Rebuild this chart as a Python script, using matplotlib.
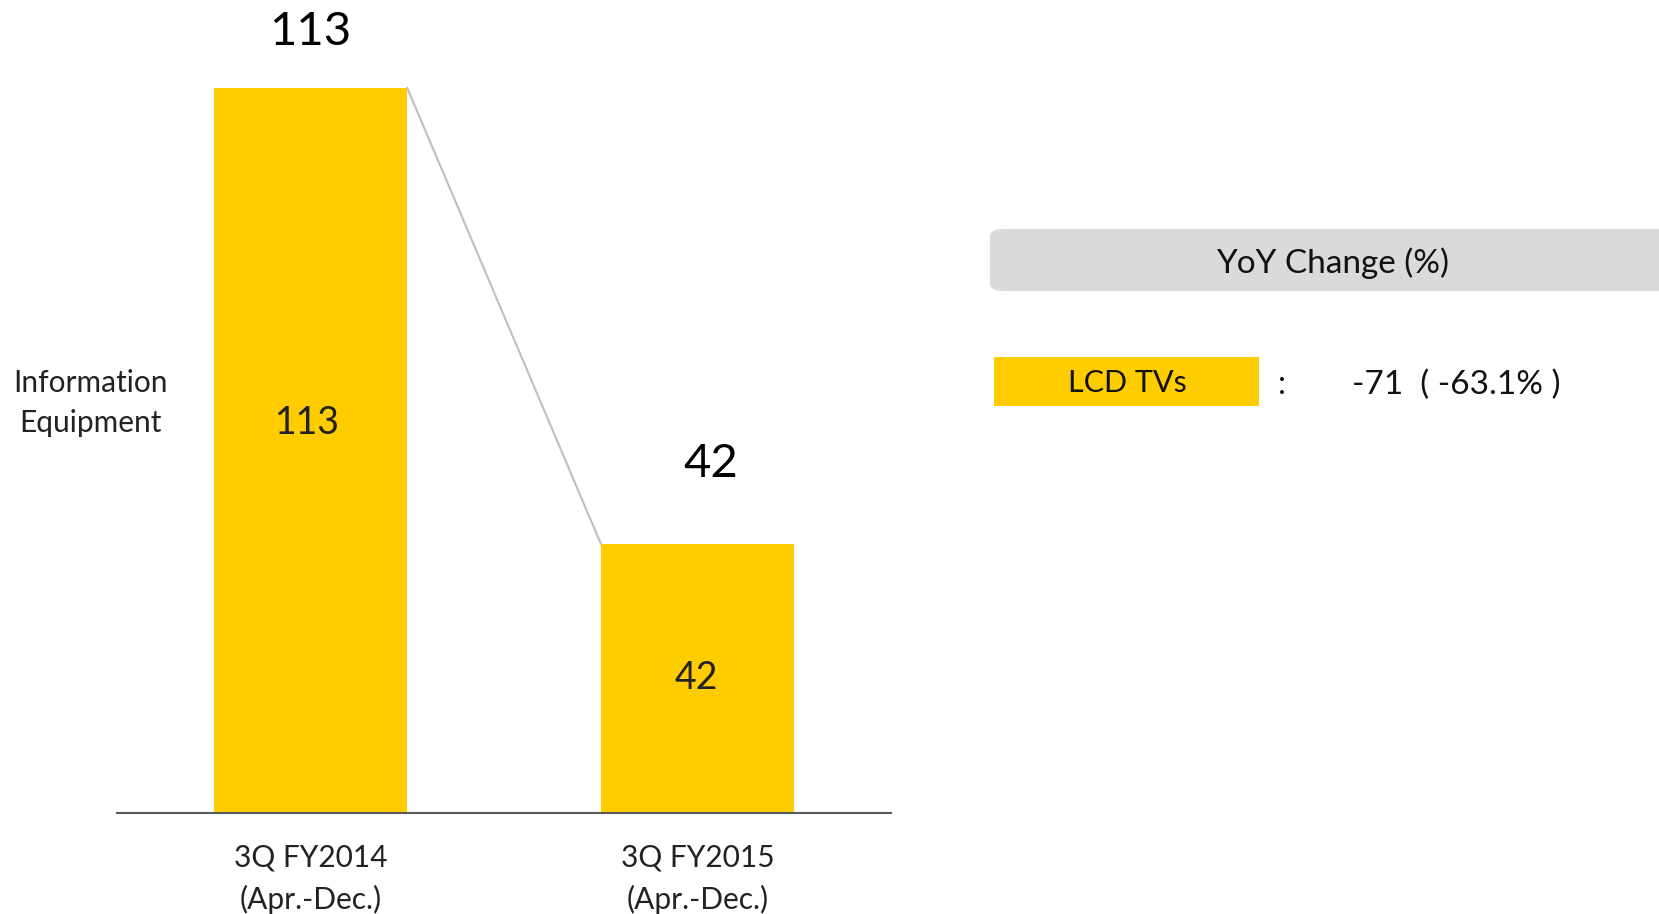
import matplotlib.pyplot as plt
from matplotlib.patches import FancyBboxPatch, Rectangle

# data
periods = ['3Q FY2014\n(Apr.-Dec.)', '3Q FY2015\n(Apr.-Dec.)']
values = [113, 42]
segment = 'Information\nEquipment'
legend_label = 'LCD TVs'
change_text = '-71  ( -63.1% )'

yellow = '#FFCC00'
plt.rcParams['font.family'] = ['Lato', 'DejaVu Sans']

fig = plt.figure(figsize=(16.59, 9.14), dpi=100)
ax = fig.add_axes([117 / 1659, 101 / 914, 774 / 1659, 725 / 914])

x = list(range(len(values)))
bar_w = 0.5
ax.bar(x, values, width=bar_w, color=yellow, zorder=2)

# connector line between bar tops
ax.plot([x[0] + bar_w / 2, x[1] - bar_w / 2], [values[0], values[1]],
        color='#BFBFBF', lw=1.5, zorder=1, clip_on=False)

# totals above the bars
top_offsets = [(0, 25), (10, 42)]
for xi, v, off in zip(x, values, top_offsets):
    ax.annotate(str(v), (xi, v), xytext=off, textcoords='offset points',
                ha='center', va='bottom', fontsize=34, color='black', annotation_clip=False)

# segment values inside the bars
in_offsets = [(-2, 20), (-1, 0)]
for xi, v, off in zip(x, values, in_offsets):
    ax.annotate(str(v), (xi, v / 2), xytext=off, textcoords='offset points',
                ha='center', va='center', fontsize=27, color='#222222')

ax.set_xlim(-0.5, 1.5)
ax.set_ylim(0, 113)
for s in ['top', 'right', 'left']:
    ax.spines[s].set_visible(False)
ax.spines['bottom'].set_color('#595959')
ax.spines['bottom'].set_linewidth(1.5)
ax.set_yticks([])
ax.set_xticks(x)
ax.set_xticklabels(periods, fontsize=21.5, color='#222222', linespacing=1.55)
ax.tick_params(axis='x', length=0, pad=22)

fig.text(90 / 1659, 1 - 403 / 914, segment, ha='center', va='center', fontsize=21.5,
         color='#222222', linespacing=1.5)

# YoY header box
fig.patches.append(FancyBboxPatch((990 / 1659, 1 - 291 / 914), 700 / 1659, 62 / 914,
                                  boxstyle='round,pad=0,rounding_size=0.008',
                                  transform=fig.transFigure, facecolor='#DADADA',
                                  edgecolor='none'))
fig.text(1333 / 1659, 1 - 263 / 914, 'YoY Change (%)', ha='center', va='center',
         fontsize=24, color='#111111')

# legend entry
fig.patches.append(Rectangle((994 / 1659, 1 - 406 / 914), 265 / 1659, 49 / 914,
                             transform=fig.transFigure, facecolor=yellow, edgecolor='none'))
fig.text(1127 / 1659, 1 - 383 / 914, legend_label, ha='center', va='center', fontsize=22, color='#111111')
fig.text(1282 / 1659, 1 - 385 / 914, ':', ha='center', va='center', fontsize=23, color='#111111')
fig.text(1352 / 1659, 1 - 385 / 914, change_text, ha='left', va='center', fontsize=24, color='#111111')

fig.savefig('out.png', dpi=100)
